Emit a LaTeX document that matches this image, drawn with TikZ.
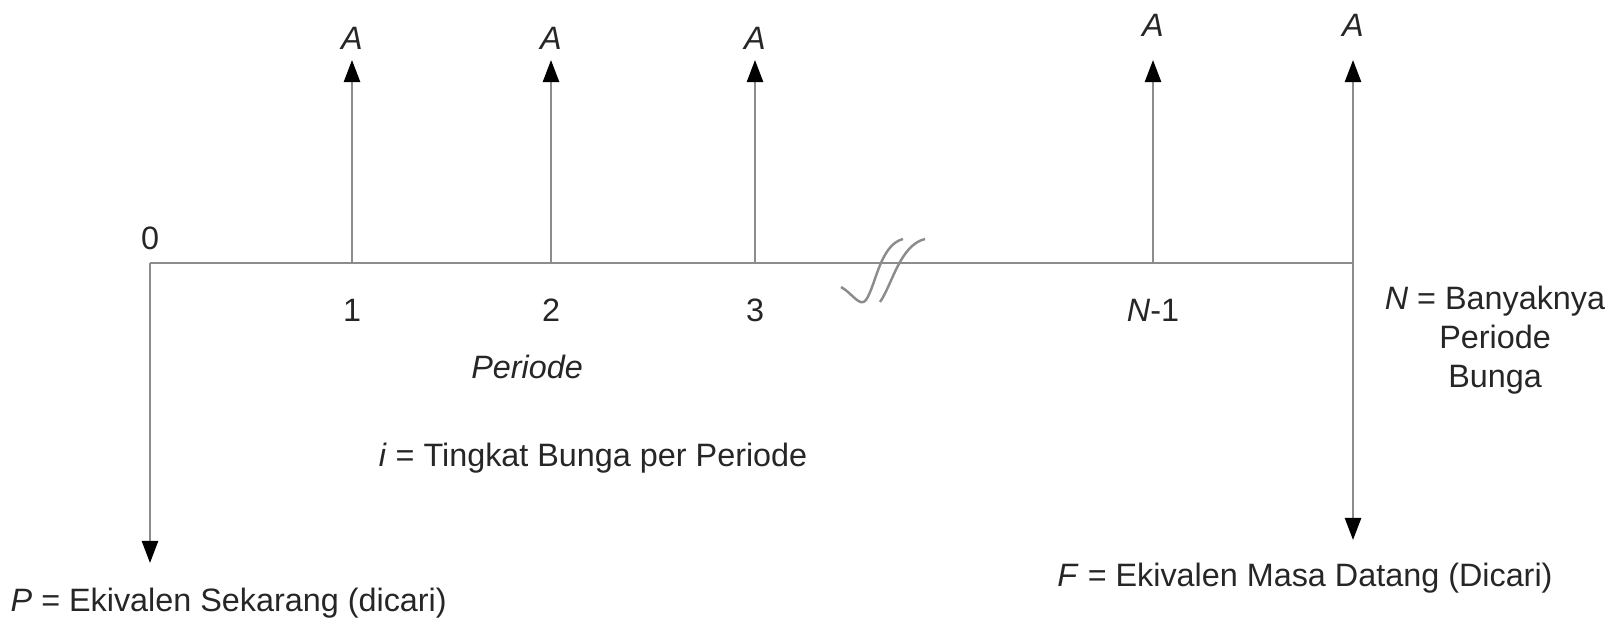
\documentclass[tikz,border=0pt]{standalone}
\usepackage{fontspec}
\setmainfont{Liberation Sans}
\usetikzlibrary{arrows.meta}
\tikzset{
	axisline/.style={draw=black!45, line width=0.7pt}
}
\tikzset{
	flowtext/.style={font=\fontsize{9.2}{11}\selectfont, text=black!85, inner sep=0pt}
}
\newcommand{\itx}[1]{\textit{#1}}

\begin{document}
\begin{tikzpicture}[x=0.01cm, y=-0.01cm, >={Triangle[length=2.2mm,width=1.6mm,color=black]}]
      \useasboundingbox (0,0) rectangle (1619,619);
      % points on the time line
      \coordinate (o)   at (150,263);
      \coordinate (t1)  at (352,263);
      \coordinate (t2)  at (551,263);
      \coordinate (t3)  at (755,263);
      \coordinate (tn1) at (1153,263);
      \coordinate (tn)  at (1353,263);
      \coordinate (a1)  at (352,60);
      \coordinate (a2)  at (551,60);
      \coordinate (a3)  at (755,60);
      \coordinate (an1) at (1153,60);
      \coordinate (an)  at (1353,60);
      \coordinate (pend) at (150,563);
      \coordinate (fend) at (1353,540);
      \draw[axisline] (o) -- (tn);
      \draw[axisline,->] (o) -- (pend);
      \draw[axisline,->] (t1) -- (a1);
      \draw[axisline,->] (t2) -- (a2);
      \draw[axisline,->] (t3) -- (a3);
      \draw[axisline,->] (tn1) -- (an1);
      \draw[axisline,->] (tn) -- (an);
      \draw[axisline,->] (tn) -- (fend);
      % break mark
      \draw[axisline] (841,287) .. controls (852,293) and (860,308) .. (866,300)
        .. controls (876,285) and (880,245) .. (903,239);
      \draw[axisline] (880,302) .. controls (892,285) and (900,245) .. (925,239);
      % labels
      \node[flowtext] (zero) at (150,238) {0};
      \node[flowtext] (one) at (352,310) {1};
      \node[flowtext] (two) at (551,310) {2};
      \node[flowtext] (three) at (755,310) {3};
      \node[flowtext] (nmin) at (1153,310) {\itx{N}-1};
      \node[flowtext] (A1) at (352,38) {\itx{A}};
      \node[flowtext] (A2) at (551,38) {\itx{A}};
      \node[flowtext] (A3) at (755,38) {\itx{A}};
      \node[flowtext] (An1) at (1153,25) {\itx{A}};
      \node[flowtext] (An) at (1353,25) {\itx{A}};
      \node[flowtext] (per) at (527,367) {\itx{Periode}};
      \node[flowtext] (rate) at (593,458) {\itx{i} = Tingkat Bunga per Periode};
      \node[flowtext, align=center] (count) at (1495,340) {\itx{N} = Banyaknya\\Periode\\Bunga};
      \node[flowtext, anchor=west] (pval) at (10,603) {\itx{P} = Ekivalen Sekarang (dicari)};
      \node[flowtext] (fval) at (1305,578) {\itx{F} = Ekivalen Masa Datang (Dicari)};
    \end{tikzpicture}
\end{document}
